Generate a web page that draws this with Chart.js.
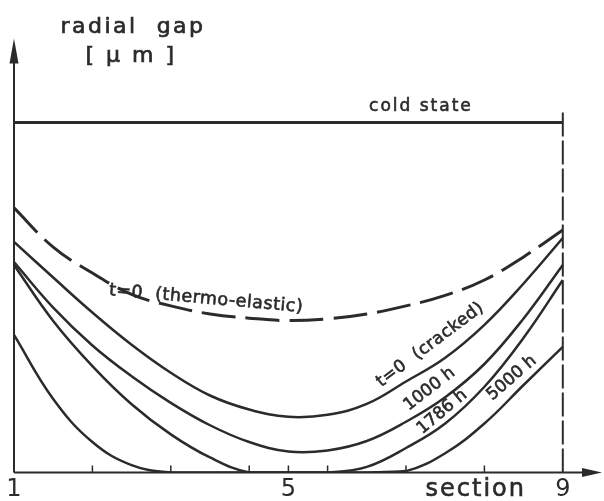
<!DOCTYPE html>
<html>
<head>
<meta charset="utf-8">
<script src="https://cdn.jsdelivr.net/npm/chart.js@4.4.1/dist/chart.umd.min.js"></script>
<style>
  html, body { margin: 0; padding: 0; background: #fff; }
</style>
</head>
<body>
<canvas id="chart" width="604" height="501"></canvas>
<script>
// axial sample positions (half-section steps near the ends, sections 4-5-6 are closer)
const xPos = [0, 1, 2, 3, 4, 5, 6, 7, 8, 9, 10, 11, 12, 13, 14];
const sectionPos = [0, 2, 4, 6, 7, 8, 10, 12, 14];
const sectionLabels = ['1', '', '', '', '5', '', '', '', '9'];

// radial gap, relative units (cold state = 100)
const coldState = 100;
const gapThermoElastic = [75.6, 64.4, 57.0, 50.9, 47.6, 45.3, 44.1, 43.4, 43.9, 45.3, 47.6, 50.6, 55.0, 61.6, 69.3];
const gapCracked = [65.9, 55.7, 45.7, 36.5, 28.5, 22.0, 18.0, 15.9, 16.5, 19.6, 26.0, 32.8, 42.2, 54.0, 67.0];
const gap1000h = [60.1, 47.1, 36.3, 27.5, 19.9, 13.5, 8.7, 6.0, 6.3, 9.0, 14.5, 21.5, 31.0, 44.0, 59.3];
const gap1786h = [59.3, 43.3, 30.4, 19.5, 10.9, 4.3, 0, 0, 0, 1.6, 7.0, 14.0, 24.5, 38.5, 55.0];
const gap5000h = [39.3, 21.0, 8.7, 2.1, 0, 0, 0, 0, 0, 0, 0.4, 5.5, 14.0, 25.0, 35.9];

const ink = '#2b2b2b';
const font = '"DejaVu Sans", sans-serif';

const pts = arr => xPos.map((x, i) => ({ x, y: arr[i] }));

function curve(label, data, extra = {}) {
  return Object.assign({
    label,
    data,
    borderColor: ink,
    borderWidth: 2.5,
    pointRadius: 0,
    fill: false,
    tension: 0.4
  }, extra);
}

// Draw a text in data coordinates, optionally rotated; thin outline gives the pen weight
function label(chart, text, xv, yv, size, rot = 0, spacing = 0) {
  const { ctx, scales: { x, y } } = chart;
  ctx.save();
  ctx.translate(x.getPixelForValue(xv), y.getPixelForValue(yv));
  ctx.rotate(rot * Math.PI / 180);
  ctx.font = size + 'px ' + font;
  ctx.letterSpacing = spacing + 'px';
  ctx.textAlign = 'center';
  ctx.textBaseline = 'middle';
  ctx.fillStyle = ink;
  ctx.strokeStyle = ink;
  ctx.lineWidth = 0.6;
  ctx.fillText(text, 0, 0);
  ctx.strokeText(text, 0, 0);
  ctx.restore();
}

const decor = {
  id: 'decor',
  afterDatasetsDraw(chart) {
    const { ctx, scales: { x, y } } = chart;
    const x0 = x.getPixelForValue(0);
    const yb = y.getPixelForValue(0);
    const yt = y.getPixelForValue(y.max);
    const xr = x.getPixelForValue(x.max);

    ctx.save();
    ctx.strokeStyle = ink;
    ctx.fillStyle = ink;
    ctx.lineWidth = 2;

    // axes
    ctx.beginPath();
    ctx.moveTo(x0, yb); ctx.lineTo(x0, yt + 12);
    ctx.moveTo(x0, yb); ctx.lineTo(xr - 10, yb);
    ctx.stroke();

    // arrow heads
    ctx.beginPath();
    ctx.moveTo(x0, yt); ctx.lineTo(x0 - 4.5, yt + 25); ctx.lineTo(x0 + 4.5, yt + 25);
    ctx.closePath(); ctx.fill();
    ctx.beginPath();
    ctx.moveTo(xr, yb); ctx.lineTo(xr - 20, yb - 4.5); ctx.lineTo(xr - 20, yb + 4.5);
    ctx.closePath(); ctx.fill();

    // small section ticks pointing up
    ctx.lineWidth = 1.5;
    ctx.beginPath();
    sectionPos.slice(1, -1).forEach(v => {
      const px = x.getPixelForValue(v);
      ctx.moveTo(px, yb); ctx.lineTo(px, yb - 7);
    });
    ctx.stroke();

    // axis titles
    ctx.font = '22px ' + font;
    ctx.textAlign = 'center';
    ctx.textBaseline = 'alphabetic';
    ctx.letterSpacing = '2.5px';
    ctx.lineWidth = 0.7;
    ctx.fillText('radial  gap', x0 + 119, 33);
    ctx.strokeText('radial  gap', x0 + 119, 33);
    ctx.fillText('[ µ m ]', x0 + 117, 62);
    ctx.strokeText('[ µ m ]', x0 + 117, 62);
    ctx.restore();

    // x axis name, level with the tick labels
    label(chart, 'section', 11.78, -4.9, 24, 0, 2);

    // curve annotations
    label(chart, 'cold state', 10.38, 104.5, 17, 0, 2);
    label(chart, 't=0  (thermo-elastic)', 4.9, 49.6, 17.5, 5, 0.5);
    label(chart, 't=0  (cracked)', 10.62, 36.5, 17, -37, 0.5);
    label(chart, '1000 h', 10.6, 23.8, 17, -38, 0);
    label(chart, '1786 h', 10.92, 17.3, 17, -40, 0);
    label(chart, '5000 h', 12.7, 27.0, 17, -41, 0);
  }
};

new Chart(document.getElementById('chart'), {
  type: 'line',
  data: {
    datasets: [
      curve('cold state', [{ x: 0, y: coldState }, { x: 14, y: coldState }], { borderWidth: 3, tension: 0 }),
      curve('section 9', [{ x: 14, y: 0 }, { x: 14, y: 104 }], { borderWidth: 2, borderDash: [24, 4], tension: 0 }),
      curve('t=0 (thermo-elastic)', pts(gapThermoElastic), { borderWidth: 3, borderDash: [34, 10] }),
      curve('t=0 (cracked)', pts(gapCracked)),
      curve('1000 h', pts(gap1000h)),
      curve('1786 h', pts(gap1786h)),
      curve('5000 h', pts(gap5000h))
    ]
  },
  options: {
    responsive: false,
    animation: false,
    layout: { padding: { left: 14, right: 2, top: 38.5, bottom: 0 } },
    plugins: {
      legend: { display: false },
      tooltip: { enabled: false }
    },
    scales: {
      x: {
        type: 'linear',
        min: 0,
        max: 15,
        afterBuildTicks: scale => { scale.ticks = sectionPos.map(v => ({ value: v })); },
        afterFit: scale => { scale.height = 28.5; },
        ticks: {
          autoSkip: false,
          maxRotation: 0,
          padding: 5,
          color: ink,
          font: { family: font, size: 24, lineHeight: 1 },
          callback: value => sectionLabels[sectionPos.indexOf(value)] ?? ''
        },
        grid: { display: false, drawTicks: false },
        border: { display: false }
      },
      y: {
        display: false,
        min: 0,
        max: 124
      }
    }
  },
  plugins: [decor]
});
</script>
</body>
</html>
